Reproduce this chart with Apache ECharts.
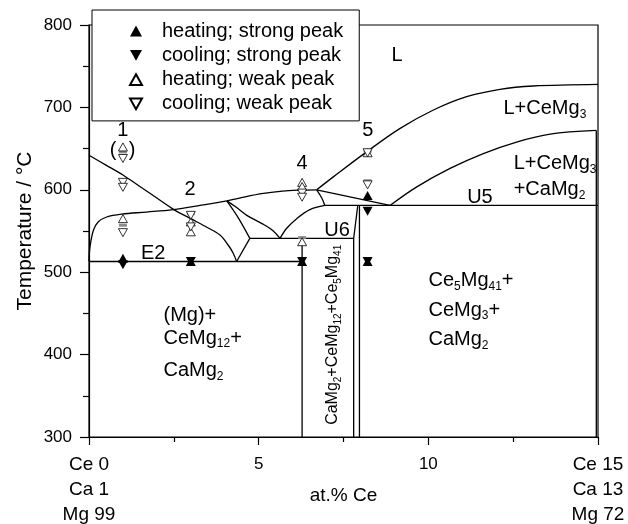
<!DOCTYPE html>
<html>
<head>
<meta charset="utf-8">
<script src="https://cdn.jsdelivr.net/npm/echarts@6/dist/echarts.min.js"></script>
<style>
html,body{margin:0;padding:0;background:#fff;}
#chart{width:628px;height:524px;}
</style>
</head>
<body>
<div id="chart"></div>
<script>
// x = at.% Ce, y = temperature / °C

// measured DTA signals
var heatingStrong = [[1, 517], [3, 513], [6.28, 513], [8.21, 593], [8.21, 513]];
var coolingStrong = [[1, 509], [3, 513], [6.28, 513], [8.21, 574], [8.21, 513]];
var heatingWeak = [[1, 652], [1, 565], [3, 561], [3, 549], [6.28, 609], [6.28, 604], [6.28, 537], [8.21, 645]];
var coolingWeak = [[1, 638], [1, 609], [1, 603], [1, 548], [3, 569], [3, 555], [6.28, 596], [6.28, 591], [8.21, 645], [8.21, 606]];
var grayMarks = [[1, 646], [1, 557], [3, 571], [6.28, 542], [8.21, 647], [8.21, 611]];

// phase boundaries
var liqMg = [[0, 642], [0.5, 630], [1, 618], [1.5, 604], [2, 590], [2.5, 576], [3, 565], [3.5, 554], [3.86, 545], [4.1, 533], [4.25, 523], [4.35, 513]];
var liqCaMg2 = [[0, 513], [0.03, 531], [0.13, 551], [0.27, 561], [0.52, 567], [0.96, 570.5], [1.7, 573], [2.48, 576], [3.27, 581], [4.06, 586.6]];
var arc4 = [[4.06, 586.6], [4.6, 591.5], [5.14, 595.6], [5.7, 598.5], [6.22, 599.6], [6.71, 600]];
var toU6 = [[4.06, 586.6], [4.4, 566], [4.74, 541]];
var u6ToE2 = [[4.74, 541], [4.35, 513]];
var arcDown = [[4.06, 586.6], [4.3, 580], [4.65, 569], [5.14, 558], [5.43, 550], [5.63, 541]];
var arcUp = [[5.63, 541], [5.82, 553], [6.12, 565], [6.51, 576], [6.95, 581]];
var shortArc = [[6.71, 600], [6.86, 590], [6.95, 581]];
var slant = [[6.71, 600], [8.87, 581]];
var liqCeMg3 = [[6.71, 600], [7.2, 615.7], [8.18, 646], [9.17, 674.5], [10.15, 696.8], [11.13, 713], [12.11, 722], [13.09, 726], [15, 728]];
var curveCaMg2 = [[8.87, 581], [9.66, 603.6], [10.64, 626], [11.62, 644], [12.6, 658], [13.59, 667.6], [14.95, 672]];
var lineE2 = [[0, 513], [6.28, 513]];
var lineU6 = [[4.74, 541], [7.8, 541]];
var lineU5 = [[6.95, 581], [15, 581]];
var vert1 = [[6.28, 541], [6.28, 300]];
var vert2 = [[7.92, 581], [7.8, 541], [7.8, 300]];
var vert3 = [[7.97, 581], [7.97, 300]];
var vertRight = [[14.95, 672], [14.95, 300]];

// tick labels
var xTickLabels = {0: ['Ce 0', 'Ca 1', 'Mg 99'], 5: ['5'], 10: ['10'], 15: ['Ce 15', 'Ca 13', 'Mg 72']};

// text in the diagram: [text, x, y, align, rotate]
var annotations = [
    ['L', 9.08, 763, 'center', 0],
    ['L+CeMg{s|3}', 12.2, 699, 'left', 0],
    ['L+CeMg{s|3}', 12.5, 632, 'left', 0],
    ['+CaMg{s|2}', 12.5, 600, 'left', 0],
    ['U5', 11.52, 591, 'center', 0],
    ['U6', 7.31, 551, 'center', 0],
    ['E2', 1.89, 523, 'center', 0],
    ['1', 1.0, 672, 'center', 0],
    ['2', 2.98, 600, 'center', 0],
    ['4', 6.28, 632, 'center', 0],
    ['5', 8.22, 672, 'center', 0],
    ['(', 0.71, 648, 'center', 0],
    [')', 1.27, 648, 'center', 0],
    ['(Mg)+', 2.18, 448, 'left', 0],
    ['CeMg{s|12}+', 2.18, 420, 'left', 0],
    ['CaMg{s|2}', 2.18, 381, 'left', 0],
    ['Ce{s|5}Mg{s|41}+', 9.99, 490, 'left', 0],
    ['CeMg{s|3}+', 9.99, 454, 'left', 0],
    ['CaMg{s|2}', 9.99, 418, 'left', 0],
    ['{v|CaMg}{vs|2}{v|+CeMg}{vs|12}{v|+Ce}{vs|5}{v|Mg}{vs|41}', 7.19, 424, 'center', 90]
];

var FONT = '"Liberation Sans", Arial, sans-serif';
var upTri = 'path://M5,0L10,9L0,9Z';
var downTri = 'path://M0,0L10,0L5,9Z';

var chart = echarts.init(document.getElementById('chart'));

function boundary(data, smooth) {
    return {
        type: 'line', data: data, symbol: 'none', smooth: smooth ? 0.35 : false,
        silent: true, z: 2,
        lineStyle: {color: '#000', width: 1.3}
    };
}

var series = [
    boundary(liqMg, true), boundary(liqCaMg2, true), boundary(arc4, true),
    boundary(toU6, true), boundary(u6ToE2, false), boundary(arcDown, true),
    boundary(arcUp, true), boundary(shortArc, true), boundary(slant, false),
    boundary(liqCeMg3, true), boundary(curveCaMg2, true), boundary(lineE2, false),
    boundary(lineU6, false), boundary(lineU5, false), boundary(vert1, false),
    boundary(vert2, false), boundary(vert3, false), boundary(vertRight, false),
    {
        type: 'scatter', data: grayMarks, symbol: 'rect', symbolSize: [8, 3], z: 3,
        itemStyle: {color: '#8c8c8c', opacity: 1}
    },
    {
        name: 'heating; weak peak', type: 'scatter', data: heatingWeak, symbol: upTri, symbolSize: [9, 8], z: 4,
        itemStyle: {color: '#fff', borderColor: '#000', borderWidth: 0.8, opacity: 1}
    },
    {
        name: 'cooling; weak peak', type: 'scatter', data: coolingWeak, symbol: downTri, symbolSize: [9, 8], z: 4,
        itemStyle: {color: '#fff', borderColor: '#000', borderWidth: 0.8, opacity: 1}
    },
    {
        name: 'heating; strong peak', type: 'scatter', data: heatingStrong, symbol: upTri, symbolSize: [10, 9], z: 5,
        itemStyle: {color: '#000', opacity: 1}
    },
    {
        name: 'cooling; strong peak', type: 'scatter', data: coolingStrong, symbol: downTri, symbolSize: [10, 9], z: 5,
        itemStyle: {color: '#000', opacity: 1}
    },
    {
        type: 'scatter', silent: true, z: 6, symbolSize: 1,
        itemStyle: {color: 'rgba(255,255,255,0)', opacity: 1},
        data: annotations.map(function (a) {
            return {
                value: [a[1], a[2]],
                label: {
                    show: true, formatter: a[0], rotate: a[4],
                    position: a[3] === 'left' ? 'right' : 'inside',
                    distance: 0, align: a[3], verticalAlign: 'middle',
                    color: '#000', opacity: 1, textBorderWidth: 0,
                    fontFamily: FONT, fontSize: 20, lineHeight: 24,
                    rich: {
                        s: {fontSize: 12, lineHeight: 24, verticalAlign: 'bottom', fontFamily: FONT, color: '#000'},
                        v: {fontSize: 16, lineHeight: 20, fontFamily: FONT, color: '#000'},
                        vs: {fontSize: 10, lineHeight: 20, verticalAlign: 'bottom', fontFamily: FONT, color: '#000'}
                    }
                }
            };
        })
    }
];

chart.setOption({
    animation: false,
    backgroundColor: '#fff',
    grid: {
        left: 89, top: 25, width: 509, height: 412, outerBoundsMode: 'none', containLabel: false,
        show: true, borderColor: '#000', borderWidth: 1.2, backgroundColor: 'transparent'
    },
    legend: {
        data: ['heating; strong peak', 'cooling; strong peak', 'heating; weak peak', 'cooling; weak peak'],
        orient: 'vertical', left: 92, top: 10,
        padding: [11, 16, 7, 37], itemGap: 4.3, itemWidth: 12, itemHeight: 11,
        backgroundColor: '#fff', borderColor: '#000', borderWidth: 1, borderRadius: 0,
        textStyle: {fontFamily: FONT, fontSize: 20, color: '#000', lineHeight: 19, padding: [0, 0, 0, 15]},
        selectedMode: false, z: 10
    },
    xAxis: {
        type: 'value', min: 0, max: 15, interval: 5,
        name: 'at.% Ce', nameLocation: 'middle', nameGap: 49, nameMoveOverlap: false,
        nameTextStyle: {fontFamily: FONT, fontSize: 19, color: '#000'},
        axisLine: {lineStyle: {color: '#000', width: 1.2}},
        axisTick: {length: 8, lineStyle: {color: '#000', width: 1.2}},
        minorTick: {show: true, splitNumber: 2, length: 5, lineStyle: {color: '#000', width: 1.2}},
        splitLine: {show: false},
        axisLabel: {
            margin: 15, color: '#000', fontFamily: FONT, lineHeight: 25,
            formatter: function (v) {
                var lines = xTickLabels[v] || [];
                var tag = lines.length > 1 ? 'c' : 'n';
                return lines.map(function (t) { return '{' + tag + '|' + t + '}'; }).join('\n');
            },
            rich: {
                c: {fontFamily: FONT, fontSize: 19, lineHeight: 25, color: '#000'},
                n: {fontFamily: FONT, fontSize: 17, lineHeight: 25, color: '#000'}
            }
        }
    },
    yAxis: {
        type: 'value', min: 300, max: 800, interval: 100,
        name: 'Temperature / °C', nameLocation: 'middle', nameGap: 53, nameRotate: 90, nameMoveOverlap: false,
        nameTextStyle: {fontFamily: FONT, fontSize: 21, color: '#000'},
        axisLine: {show: true, lineStyle: {color: '#000', width: 1.2}},
        axisTick: {show: true, length: 9, lineStyle: {color: '#000', width: 1.2}},
        minorTick: {show: true, splitNumber: 2, length: 6, lineStyle: {color: '#000', width: 1.2}},
        splitLine: {show: false},
        axisLabel: {margin: 17, color: '#000', fontFamily: FONT, fontSize: 17}
    },
    series: series
});
</script>
</body>
</html>
